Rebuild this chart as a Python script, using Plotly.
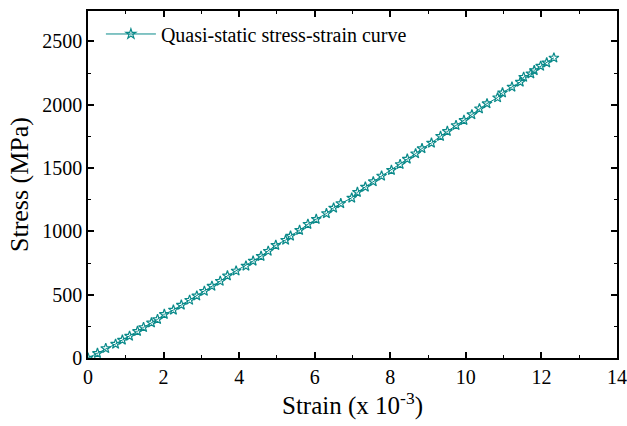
import plotly.graph_objects as go

strain = [0.0, 0.25, 0.47, 0.73, 0.91, 1.10, 1.31, 1.47, 1.68, 1.84, 2.02, 2.26, 2.47, 2.69,
          2.88, 3.08, 3.28, 3.50, 3.69, 3.92, 4.18, 4.37, 4.58, 4.77, 4.97, 5.23, 5.36, 5.60,
          5.82, 6.04, 6.31, 6.50, 6.69, 6.98, 7.13, 7.34, 7.55, 7.77, 8.03, 8.26, 8.45, 8.67,
          8.84, 9.09, 9.33, 9.51, 9.74, 9.95, 10.16, 10.36, 10.56, 10.84, 10.97, 11.22, 11.44,
          11.53, 11.72, 11.81, 11.98, 12.14, 12.33]
stress = [0, 37, 76, 110, 142, 173, 211, 242, 278, 305, 345, 379, 418, 457,
          491, 528, 568, 607, 649, 688, 727, 766, 804, 844, 891, 931, 964, 1009,
          1057, 1096, 1141, 1185, 1220, 1264, 1309, 1351, 1393, 1438, 1483, 1529, 1571, 1614,
          1654, 1698, 1751, 1790, 1837, 1877, 1922, 1969, 2009, 2056, 2095, 2140, 2179,
          2218, 2245, 2271, 2305, 2332, 2370]

color = "#0a8a8a"
font = "Liberation Serif"

fig = go.Figure()
fig.add_trace(go.Scatter(
    x=strain, y=stress, mode="lines+markers",
    name="Quasi-static stress-strain curve",
    line=dict(color=color, width=1),
    marker=dict(symbol="star-open", size=7.5, color=color, line=dict(width=1.2, color=color)),
))

axis_common = dict(
    showline=True, linecolor="black", linewidth=1.5, mirror="allticks",
    ticks="inside", ticklen=6, tickwidth=1.5, tickcolor="black",
    showgrid=False, zeroline=False, ticklabeloverflow="allow", automargin=False,
    tickfont=dict(family=font, size=20, color="black"),
)

fig.update_xaxes(range=[0, 14], dtick=2,
                 minor=dict(ticks="inside", ticklen=3, tickwidth=1.2, dtick=1, tickcolor="black"),
                 title=dict(text="Strain (x 10<sup>-3</sup>)", font=dict(family=font, size=25, color="black"), standoff=6),
                 **axis_common)
fig.update_yaxes(range=[0, 2740], dtick=500,
                 minor=dict(ticks="inside", ticklen=3, tickwidth=1.2, dtick=250, tickcolor="black"),
                 title=dict(text="Stress (MPa)", font=dict(family=font, size=26, color="black"), standoff=6),
                 **axis_common)

fig.update_layout(
    width=627, height=426,
    margin=dict(l=88, r=10, t=11, b=68),
    paper_bgcolor="white", plot_bgcolor="white",
    showlegend=True,
    legend=dict(x=0.0244, y=0.99, xanchor="left", yanchor="top", bgcolor="rgba(0,0,0,0)",
                itemwidth=50,
                font=dict(family=font, size=20, color="black")),
)

fig.write_html("out.html")
